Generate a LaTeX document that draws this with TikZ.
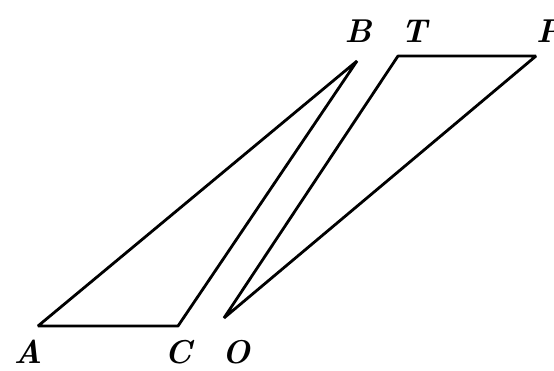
\documentclass[tikz,border=0pt]{standalone}
\begin{document}
\begin{tikzpicture}[x=1pt,y=-1pt,
  edge/.style={line width=2.8pt,line join=bevel},
  lbl/.style={font=\fontsize{33}{33}\selectfont\bfseries\itshape,inner sep=0pt}]
\useasboundingbox (0,0) rectangle (554,371);
\coordinate (A) at (38,326);
\coordinate (C) at (178,326);
\coordinate (B) at (357,61);
\coordinate (O) at (224,318);
\coordinate (T) at (398,56);
\coordinate (P) at (536,56);
\draw[edge] (A) -- (C) -- (B) -- cycle;
\draw[edge] (O) -- (T) -- (P) -- cycle;
\node[lbl] (lA) at (28,352) {A};
\node[lbl] (lC) at (178,352) {C};
\node[lbl] (lO) at (236,352) {O};
\node[lbl] (lB) at (358,31) {B};
\node[lbl] (lT) at (414,31) {T};
\node[lbl] (lP) at (549,31) {P};
\end{tikzpicture}
\end{document}
